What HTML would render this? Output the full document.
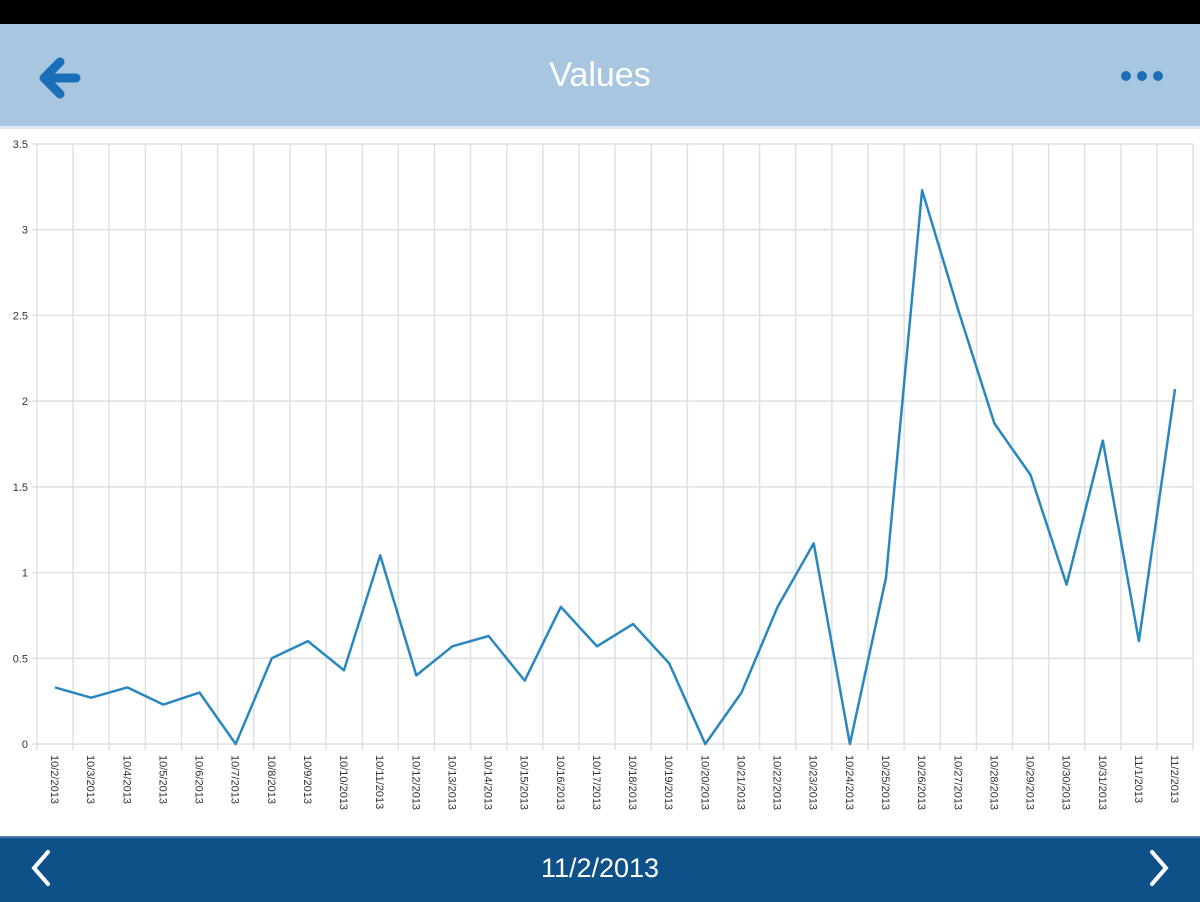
<!DOCTYPE html>
<html><head><style>
body{margin:0;width:1200px;height:900px;overflow:hidden;background:#fff;font-family:"Liberation Sans",sans-serif;position:relative}
.top{position:absolute;left:0;top:0;width:1200px;height:24px;background:#000}
.hdr{position:absolute;left:0;top:24px;width:1200px;height:102px;background:#a8c6df;border-bottom:3px solid #dde9f3}
.title{position:absolute;left:0;width:1200px;top:56px;text-align:center;color:#fff;font-size:34px}
.bot{position:absolute;left:0;top:836px;width:1200px;height:64px;background:#0e5088;border-top:2px solid #4a7aa6}
.bt{position:absolute;left:0;width:1200px;top:853px;text-align:center;color:#fff;font-size:27px}
</style></head><body>
<div class="top"></div>
<div class="hdr"></div>
<div class="title">Values</div>
<svg style="position:absolute;left:0;top:0" width="1200" height="900">
<path d="M76 78 H46 M60 62 L44 78 L60 94" stroke="#1a6fb8" stroke-width="9" fill="none" stroke-linecap="round" stroke-linejoin="round"/>
<circle cx="1126" cy="76" r="5" fill="#1a6fb8"/><circle cx="1142" cy="76" r="5" fill="#1a6fb8"/><circle cx="1158" cy="76" r="5" fill="#1a6fb8"/>
<g id="g"></g>
</svg>
<div class="bot"></div>
<div class="bt">11/2/2013</div>
<svg style="position:absolute;left:0;top:836px" width="1200" height="64">
<path d="M48 16 L34 32 L48 48" stroke="#fff" stroke-width="4" fill="none" stroke-linecap="round"/>
<path d="M1152 16 L1166 32 L1152 48" stroke="#fff" stroke-width="4" fill="none" stroke-linecap="round"/>
</svg>
<script>
var v=[0.33,0.27,0.33,0.23,0.30,0,0.50,0.60,0.43,1.10,0.40,0.57,0.63,0.37,0.80,0.57,0.70,0.47,0,0.30,0.80,1.17,0,0.97,3.23,2.53,1.87,1.57,0.93,1.77,0.60,2.07];
var d=[];for(var i=2;i<=31;i++)d.push("10/"+i+"/2013");d.push("11/1/2013");d.push("11/2/2013");
var s="",x0=37,dx=36.13,y0=744,k=600/3.5;
for(var i=0;i<=32;i++){var x=x0+dx*i;s+='<line x1="'+x+'" y1="144" x2="'+x+'" y2="750" stroke="#dde1e4" stroke-width="1.5"/>';}
for(var j=0;j<=7;j++){var y=y0-j*0.5*k;s+='<line x1="32" y1="'+y+'" x2="1193" y2="'+y+'" stroke="#dde1e4" stroke-width="1.5"/>';
s+='<text x="28" y="'+(y+4)+'" font-size="11" text-anchor="end" fill="#333">'+(j*0.5)+'</text>';}
var p="";for(var i=0;i<32;i++){var x=55+dx*i,y=y0-v[i]*k;p+=(i?"L":"M")+x.toFixed(1)+" "+y.toFixed(1);
s+='<text transform="translate('+(x-4)+',755) rotate(90)" font-size="11" fill="#333">'+d[i]+'</text>';}
s+='<path d="'+p+'" stroke="#2a87bd" stroke-width="2.5" fill="none" stroke-linejoin="round"/>';
document.getElementById("g").innerHTML=s;
</script>
</body></html>
